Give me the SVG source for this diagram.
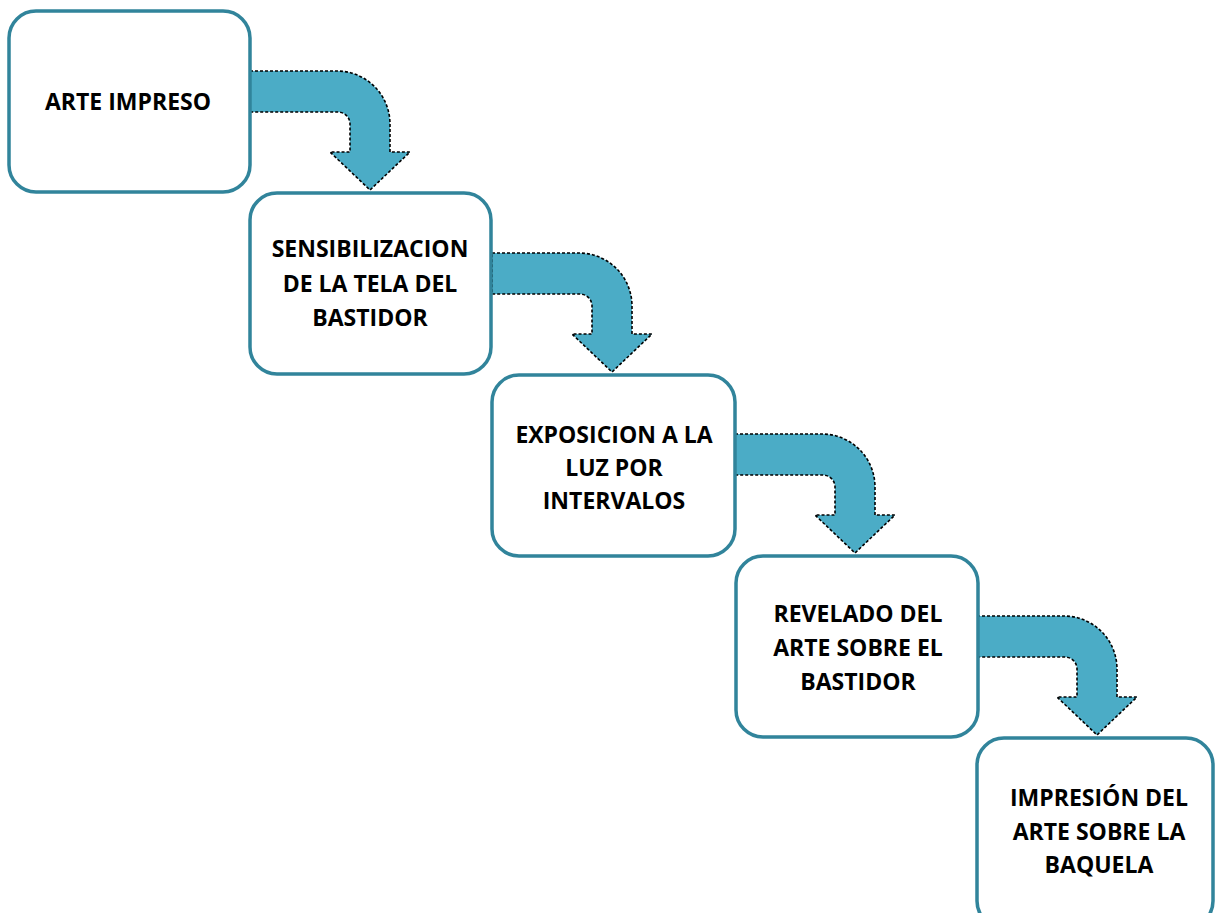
<svg xmlns="http://www.w3.org/2000/svg" width="1215" height="913" viewBox="0 0 1215 913">
<style>
.box{fill:#fff;stroke:#31849B;stroke-width:3.5}
.arr{fill:#4BACC6;stroke:#000;stroke-width:1.6;stroke-dasharray:3 2}
.t{font-family:"Open Sans","Liberation Sans",sans-serif;font-weight:bold;font-size:23px;fill:#000;text-anchor:middle}
</style>
<defs>
<path id="bent" d="M0,0 H87 A53,53 0 0 1 140,53 V81 H160 L120,119 L80,81 H100 V53 A12,12 0 0 0 88,41 H0 Z"/>
</defs>
<rect width="1215" height="913" fill="#fff"/>
<g id="connectors">
<use href="#bent" class="arr" transform="translate(250,71)"/>
<use href="#bent" class="arr" transform="translate(492,253)"/>
<use href="#bent" class="arr" transform="translate(735,434)"/>
<use href="#bent" class="arr" transform="translate(977,616)"/>
</g>
<g id="n1"><rect class="box" x="9" y="11" width="241" height="181" rx="27"/>
<text class="t" x="128" y="110">ARTE IMPRESO</text></g>
<g id="n2"><rect class="box" x="250" y="193" width="241" height="181" rx="27"/>
<text class="t" x="370"><tspan x="370" y="257">SENSIBILIZACION</tspan><tspan x="370" y="292">DE LA TELA DEL</tspan><tspan x="370" y="326">BASTIDOR</tspan></text></g>
<g id="n3"><rect class="box" x="492" y="375" width="243" height="181" rx="27"/>
<text class="t" x="614"><tspan x="614" y="443">EXPOSICION A LA</tspan><tspan x="614" y="476">LUZ POR</tspan><tspan x="614" y="509">INTERVALOS</tspan></text></g>
<g id="n4"><rect class="box" x="736" y="556" width="242" height="181" rx="27"/>
<text class="t" x="858"><tspan x="858" y="622">REVELADO DEL</tspan><tspan x="858" y="656">ARTE SOBRE EL</tspan><tspan x="858" y="690">BASTIDOR</tspan></text></g>
<g id="n5"><rect class="box" x="977" y="738" width="236" height="190" rx="27"/>
<text class="t" x="1099"><tspan x="1099" y="806">IMPRESIÓN DEL</tspan><tspan x="1099" y="840">ARTE SOBRE LA</tspan><tspan x="1099" y="873">BAQUELA</tspan></text></g>
</svg>
